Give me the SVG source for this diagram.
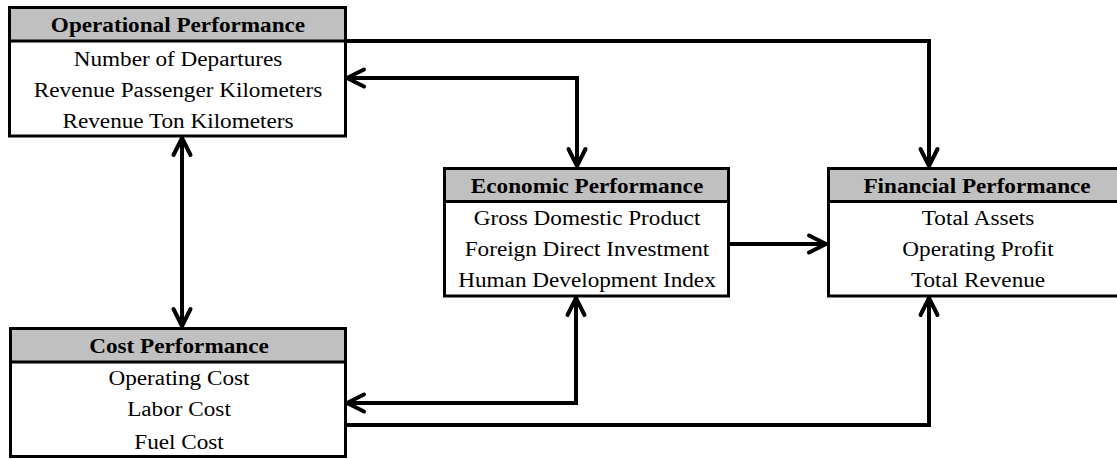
<svg xmlns="http://www.w3.org/2000/svg" width="1117" height="459" viewBox="0 0 1117 459">
<style>
.bg{fill:#fff}
.hdr{fill:#c0c0c0;stroke:none}
.box{fill:none;stroke:#000;stroke-width:3}
.sep{stroke:#000;stroke-width:3}
.t{font-family:"Liberation Serif","Times New Roman",serif;font-size:20px;fill:#000;text-anchor:middle}
.h{font-weight:bold}
.c{fill:none;stroke:#000;stroke-width:4;stroke-linejoin:miter}
</style>
<defs>
<marker id="chev" viewBox="0 0 24 24" refX="20" refY="12" markerWidth="24" markerHeight="24" markerUnits="userSpaceOnUse" orient="auto-start-reverse">
<path d="M3 3.5 L20 12 L3 20.5" fill="none" stroke="#000" stroke-width="4" stroke-linecap="round" stroke-linejoin="round"/>
</marker>
</defs>
<rect class="bg" x="0" y="0" width="1117" height="459"/>

<g id="connectors">
<path class="c" d="M345 41 H929 V166" marker-end="url(#chev)"/>
<path class="c" d="M347 78 H577 V166" marker-start="url(#chev)" marker-end="url(#chev)"/>
<path class="c" d="M182 138 V326" marker-start="url(#chev)" marker-end="url(#chev)"/>
<path class="c" d="M728 244 H826" marker-end="url(#chev)"/>
<path class="c" d="M347 403 H576 V298" marker-start="url(#chev)" marker-end="url(#chev)"/>
<path class="c" d="M345 425 H929 V298" marker-end="url(#chev)"/>
</g>

<g id="operational">
<rect class="hdr" x="9.5" y="7.5" width="336" height="33.5"/>
<rect class="box" x="9.5" y="7.5" width="336" height="128.5"/>
<line class="sep" x1="9.5" y1="41" x2="345.5" y2="41"/>
<text class="t h" transform="translate(178,32) scale(1.16,1)">Operational Performance</text>
<text class="t" transform="translate(178,66) scale(1.16,1)">Number of Departures</text>
<text class="t" transform="translate(178,97) scale(1.16,1)">Revenue Passenger Kilometers</text>
<text class="t" transform="translate(178,128) scale(1.16,1)">Revenue Ton Kilometers</text>
</g>

<g id="economic">
<rect class="hdr" x="444.5" y="168.5" width="284" height="33"/>
<rect class="box" x="444.5" y="168.5" width="284" height="127.5"/>
<line class="sep" x1="444.5" y1="201.5" x2="728.5" y2="201.5"/>
<text class="t h" transform="translate(587,193) scale(1.16,1)">Economic Performance</text>
<text class="t" transform="translate(587,225) scale(1.16,1)">Gross Domestic Product</text>
<text class="t" transform="translate(587,256) scale(1.16,1)">Foreign Direct Investment</text>
<text class="t" transform="translate(587,287) scale(1.16,1)">Human Development Index</text>
</g>

<g id="financial">
<rect class="hdr" x="828.5" y="168.5" width="300" height="33"/>
<rect class="box" x="828.5" y="168.5" width="300" height="127.5"/>
<line class="sep" x1="828.5" y1="201.5" x2="1128.5" y2="201.5"/>
<text class="t h" transform="translate(977,193) scale(1.16,1)">Financial Performance</text>
<text class="t" transform="translate(978,225) scale(1.16,1)">Total Assets</text>
<text class="t" transform="translate(978,256) scale(1.16,1)">Operating Profit</text>
<text class="t" transform="translate(978,287) scale(1.16,1)">Total Revenue</text>
</g>

<g id="cost">
<rect class="hdr" x="10.5" y="328.5" width="335" height="33.5"/>
<rect class="box" x="10.5" y="328.5" width="335" height="128"/>
<line class="sep" x1="10.5" y1="362" x2="345.5" y2="362"/>
<text class="t h" transform="translate(179,353) scale(1.16,1)">Cost Performance</text>
<text class="t" transform="translate(179,385) scale(1.16,1)">Operating Cost</text>
<text class="t" transform="translate(179,416) scale(1.16,1)">Labor Cost</text>
<text class="t" transform="translate(179,449) scale(1.16,1)">Fuel Cost</text>
</g>
</svg>
